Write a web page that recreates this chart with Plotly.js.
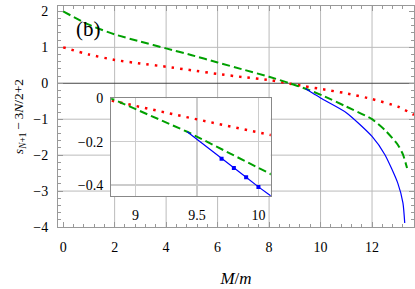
<!DOCTYPE html>
<html>
<head>
<meta charset="utf-8">
<script src="https://cdn.plot.ly/plotly-3.0.1.min.js"></script>
<style>html,body{margin:0;padding:0;background:#fff;}</style>
</head>
<body>
<div id="chart"></div>
<script>
// ---- data ----
const redX   = [0, 1, 2, 3, 4, 5, 6, 7, 8, 8.8, 9.4, 10.1, 11, 12, 13, 13.63];
const redY   = [1.0, 0.8, 0.65, 0.55, 0.46, 0.36, 0.26, 0.17, 0.09, -0.012, -0.085, -0.169, -0.28, -0.44, -0.65, -0.88];
const greenX = [0, 1, 2, 3, 4, 5, 6, 7, 8, 8.8, 9.42, 10.1, 11, 12, 12.5, 13, 13.2, 13.36];
const greenY = [2.0, 1.63, 1.36, 1.16, 0.97, 0.78, 0.58, 0.38, 0.18, 0.0, -0.154, -0.349, -0.65, -1.0, -1.30, -1.71, -1.98, -2.36];
const blueX  = [9.42, 9.7, 9.8, 9.9, 10.0, 10.1, 11, 12, 12.5, 13, 13.2, 13.27];
const blueY  = [-0.154, -0.279, -0.321, -0.364, -0.408, -0.453, -0.82, -1.48, -1.99, -2.78, -3.33, -3.89];
const markX  = [9.7, 9.8, 9.9, 10.0];
const markY  = [-0.279, -0.321, -0.364, -0.408];
const xTicks = [0, 2, 4, 6, 8, 10, 12];
const yTicks = [-4, -3, -2, -1, 0, 1, 2];
const xGrid  = [2, 4, 6, 8, 10, 12];
const yGrid  = [1, -1, -2, -3];
const insetXTicks = [9, 9.5, 10];
const insetXLabels = ["9", "9.5", "10"];
const insetYTicks = [0, -0.2, -0.4];

const RED = 'rgb(255,0,0)', GREEN = 'rgb(0,160,0)', BLUE = 'rgb(0,0,255)';
const FONT = 'Liberation Serif';
const redLine = {color: RED, width: 2.5, dash: '2.5px,6px'};
const greenLine = {color: GREEN, width: 2, dash: '8px,4px'};
const blueLine = {color: BLUE, width: 1.2};

const traces = [
  {x: redX, y: redY, mode: 'lines', line: Object.assign({shape: 'spline', smoothing: 0.6}, redLine), xaxis: 'x', yaxis: 'y'},
  {x: greenX, y: greenY, mode: 'lines', line: Object.assign({shape: 'spline', smoothing: 0.6}, greenLine), xaxis: 'x', yaxis: 'y'},
  {x: blueX, y: blueY, mode: 'lines', line: Object.assign({shape: 'spline', smoothing: 0.6}, blueLine), xaxis: 'x', yaxis: 'y'},
  {x: redX, y: redY, mode: 'lines', line: redLine, xaxis: 'x2', yaxis: 'y2'},
  {x: greenX, y: greenY, mode: 'lines', line: greenLine, xaxis: 'x2', yaxis: 'y2'},
  {x: blueX, y: blueY, mode: 'lines', line: blueLine, xaxis: 'x2', yaxis: 'y2'},
  {x: markX, y: markY, mode: 'markers', marker: {symbol: 'square', size: 4, color: BLUE}, xaxis: 'x2', yaxis: 'y2'}
];

const shapes = [];
xGrid.forEach(v => shapes.push({type: 'line', xref: 'x', yref: 'y domain', x0: v, x1: v, y0: 0, y1: 1, layer: 'below', line: {color: '#bbbbbb', width: 1}}));
yGrid.forEach(v => shapes.push({type: 'line', xref: 'x domain', yref: 'y', x0: 0, x1: 1, y0: v, y1: v, layer: 'below', line: {color: '#bbbbbb', width: 1}}));
shapes.push({type: 'line', xref: 'x domain', yref: 'y', x0: 0, x1: 1, y0: 0, y1: 0, layer: 'below', line: {color: '#444444', width: 1}});

const layout = {
  width: 415, height: 289,
  margin: {l: 58, r: 1, t: 6, b: 62},
  paper_bgcolor: '#fff', plot_bgcolor: '#fff',
  showlegend: false,
  font: {family: FONT, size: 14, color: '#000'},
  xaxis: {
    range: [-0.2, 13.63], tickvals: xTicks, ticktext: xTicks.map(String),
    showgrid: false, zeroline: false, showline: true, linecolor: '#999', linewidth: 1, mirror: 'ticks',
    ticks: 'inside', ticklen: 5, tickcolor: '#999', ticklabelstandoff: 7,
    minor: {dtick: 0.4, tick0: 0, ticks: 'inside', ticklen: 3, tickcolor: '#999', showgrid: false},
    title: {text: '<i>M</i>/<i>m</i>', standoff: 18}
  },
  yaxis: {
    range: [-4, 2.15], tickvals: yTicks, ticktext: yTicks.map(v => v < 0 ? '\u2212' + Math.abs(v) : String(v)),
    showgrid: false, zeroline: false, showline: true, linecolor: '#999', linewidth: 1, mirror: 'ticks',
    ticks: 'inside', ticklen: 5, tickcolor: '#999', ticklabelstandoff: 6,
    minor: {dtick: 0.2, tick0: 0, ticks: 'inside', ticklen: 3, tickcolor: '#999', showgrid: false},
    title: {text: '<i>s</i><sub><i>N</i>+1</sub>\u2009\u2212\u20093<i>N</i>/2+2', font: {size: 13.5}, standoff: 6}
  },
  xaxis2: {
    domain: [0.1489, 0.5975], anchor: 'y2', range: [8.8, 10.1],
    tickvals: insetXTicks, ticktext: insetXLabels,
    showgrid: true, gridcolor: '#cccccc', gridwidth: 1.5, zeroline: false,
    showline: true, linecolor: '#888', linewidth: 1, mirror: true,
    ticks: '', ticklabelstandoff: 6
  },
  yaxis2: {
    domain: [0.1403, 0.5824], anchor: 'x2', range: [-0.45, 0],
    tickvals: insetYTicks, ticktext: insetYTicks.map(v => v < 0 ? '\u2212' + Math.abs(v) : String(v)),
    showgrid: true, gridcolor: '#cccccc', gridwidth: 1.5, zeroline: false,
    showline: true, linecolor: '#888', linewidth: 1, mirror: true,
    ticks: '', ticklabelstandoff: 4
  },
  shapes: shapes,
  annotations: [
    {text: '(b)', xref: 'paper', yref: 'paper', x: 0.087, y: 0.895, xanchor: 'center', yanchor: 'middle', showarrow: false, font: {size: 21}}
  ]
};

function draw() {
  Plotly.newPlot('chart', traces, layout, {staticPlot: true, displayModeBar: false});
}
if (document.fonts && document.fonts.load) {
  Promise.all([
    document.fonts.load('14px "Liberation Serif"'),
    document.fonts.load('italic 14px "Liberation Serif"')
  ]).then(draw, draw);
} else {
  draw();
}
</script>
</body>
</html>
